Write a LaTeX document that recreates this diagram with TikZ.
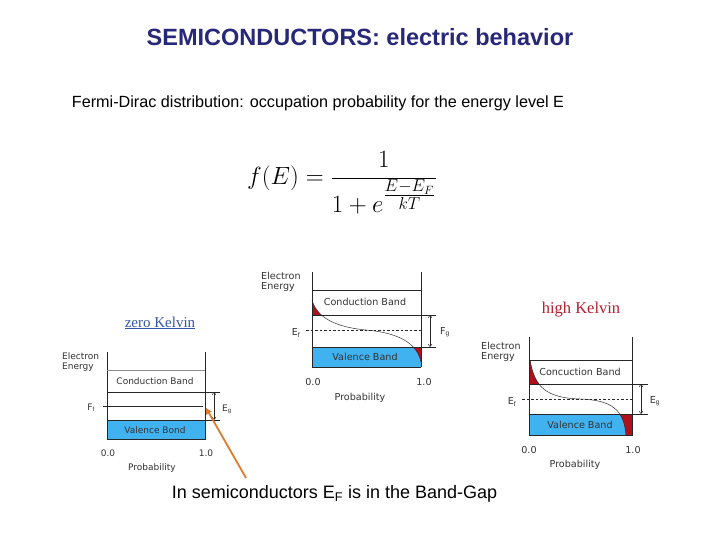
\documentclass[tikz,border=0pt]{standalone}
\usepackage{fontspec}
\setmainfont{Liberation Sans}
\newfontfamily\kelvinfont{Liberation Serif}
\newfontfamily\labelfont{DejaVu Sans}
\usetikzlibrary{arrows.meta}
\definecolor{navy}{HTML}{28287A}
\definecolor{vblue}{HTML}{40B2F0}
\definecolor{dred}{HTML}{B0101C}
\definecolor{kblue}{HTML}{3355AA}
\definecolor{kred}{HTML}{B0202E}
\definecolor{orng}{HTML}{E07A2C}
\tikzset{
  lbl/.style={font=\labelfont\fontsize{9.6}{10.5}\selectfont, text=black!80, inner sep=0pt},
  lbls/.style={lbl, font=\labelfont\fontsize{9}{10.5}\selectfont},
  lbll/.style={lbl, align=left},
  band/.style={draw=black!85, line width=0.7pt},
  axisl/.style={draw=black!85, line width=0.8pt},
  gaparrow/.style={draw=black!85, line width=0.5pt, {Straight Barb[length=2.5pt,width=4pt]}-{Straight Barb[length=2.5pt,width=4pt]}},
  fermidash/.style={draw=black!85, line width=0.5pt, dash pattern=on 2.5pt off 2pt},
  curvel/.style={draw=black!80, line width=0.5pt}
}
\begin{document}
\begin{tikzpicture}[x=1pt,y=-1pt]
\useasboundingbox[fill=white] (0,0) rectangle (720,540);

% title and texts
\node[font=\fontsize{23.5}{27}\selectfont\bfseries, text=navy] (title) at (360,37) {SEMICONDUCTORS: electric behavior};
\node[font=\fontsize{16.2}{19}\selectfont] (sub) at (318,103) {Fermi-Dirac distribution: occupation probability for the energy level E};
\node[font=\fontsize{25}{30}\selectfont] (formula) at (342,183) {$\displaystyle f(E)=\frac{1}{1+e^{\textstyle\frac{E-E_F}{kT}}}$};
\node[font=\fontsize{18}{21}\selectfont] (bottom) at (334.5,494) {In semiconductors E\textsubscript{F} is in the Band-Gap};

% ===== middle diagram =====
\fill[vblue] (312,347) rectangle (421,367);
\begin{scope}
  \clip (312,290) rectangle (421,315);
  \fill[dred] (312,300) .. controls (318,322) and (345,328) .. (366,330) -- (312,330) -- cycle;
\end{scope}
\begin{scope}
  \clip (312,347) rectangle (421,367);
  \fill[dred] (366,330) .. controls (388,332) and (416,338) .. (421,362) -- (421,330) -- cycle;
\end{scope}
\draw[curvel] (312,300) .. controls (318,322) and (345,328) .. (366,330) .. controls (388,332) and (416,338) .. (421,362);
\draw[axisl] (312,272) -- (312,367);
\draw[axisl] (421,272) -- (421,367);
\draw[band] (312,290) -- (421,290);
\draw[band] (312,315) -- (436,315);
\draw[band] (312,347) -- (436,347);
\draw[band] (312,367) -- (421,367);
\draw[fermidash] (306,330) -- (421,330);
\coordinate (mgt) at (430,315);
\coordinate (mgb) at (430,347);
\draw[gaparrow] (mgt) -- (mgb);
\node[lbll, anchor=west] (melec) at (261,282) {Electron\\Energy};
\node[lbl] (mcb) at (365,302) {Conduction Band};
\node[lbl] (mvb) at (365,357) {Valence Band};
\node[lbl] (mef) at (296,333) {E$_{\mathrm{f}}$};
\node[lbl] (meg) at (445,332) {F$_{\mathrm{g}}$};
\node[lbl] (m00) at (313,382) {0.0};
\node[lbl] (m10) at (424,382) {1.0};
\node[lbl] (mprob) at (360,398) {Probability};

% ===== left diagram (zero Kelvin) =====
\node[font=\kelvinfont\fontsize{15}{17}\selectfont, text=kblue, inner sep=0pt] (zk) at (160,323) {\underline{zero Kelvin}};
\fill[vblue] (107,420) rectangle (205,439);
\draw[axisl] (107,352) -- (107,440);
\draw[axisl] (205,352) -- (205,440);
\draw[band, draw=black!45] (107,370) -- (205,370);
\draw[band] (107,392) -- (220,392);
\draw[band] (107,420) -- (220,420);
\draw[band] (107,439) -- (205,439);
\coordinate (lfa) at (103,406);
\coordinate (lfb) at (203,406);
\draw[band] (lfa) -- (lfb);
\draw[gaparrow] (214,392) -- (214,420);
\node[lbll, lbls, anchor=west] (lelec) at (62,362) {Electron\\Energy};
\node[lbls] (lcb) at (155,381) {Conduction Band};
\node[lbls] (lvb) at (155,430) {Valence Bond};
\node[lbls] (lef) at (91,408) {F$_{\mathrm{f}}$};
\node[lbls] (leg) at (227,409) {E$_{\mathrm{g}}$};
\node[lbls] (l00) at (108,453) {0.0};
\node[lbls] (l10) at (206,453) {1.0};
\node[lbls] (lprob) at (152,468) {Probability};

% orange pointer
\coordinate (otail) at (246,478);
\coordinate (ohead) at (206,408);
\draw[orng, line width=1.8pt, -{Triangle[length=6pt,width=6pt]}] (otail) -- (ohead);

% ===== right diagram (high Kelvin) =====
\node[font=\kelvinfont\fontsize{16.5}{18}\selectfont, text=kred, inner sep=0pt] (hk) at (581,310) {high Kelvin};
\begin{scope}
  \clip (529,414) rectangle (632,435);
  \fill[vblue] (529,414) rectangle (632,435);
  \fill[dred] (580,399) .. controls (612,400) and (624,410) .. (626,436) -- (632,436) -- (632,399) -- cycle;
\end{scope}
\begin{scope}
  \clip (529,360) rectangle (632,384);
  \fill[dred] (530,358) .. controls (534,388) and (548,398) .. (580,399) -- (529,399) -- (529,358) -- cycle;
\end{scope}
\draw[curvel] (530,360) .. controls (534,388) and (548,398) .. (580,399) .. controls (612,400) and (624,410) .. (626,435);
\draw[axisl] (529,337) -- (529,436);
\draw[axisl] (632,337) -- (632,436);
\draw[band] (529,360) -- (632,360);
\draw[band] (529,384) -- (648,384);
\draw[band] (529,414) -- (648,414);
\draw[band] (529,435) -- (632,435);
\draw[fermidash] (522,399) -- (632,399);
\draw[gaparrow] (641,384) -- (641,414);
\node[lbll, anchor=west] (relec) at (481,352) {Electron\\Energy};
\node[lbl] (rcb) at (580,372) {Concuction Band};
\node[lbl] (rvb) at (580,425) {Valence Band};
\node[lbl] (ref) at (512,402) {E$_{\mathrm{f}}$};
\node[lbl] (reg) at (655,401) {E$_{\mathrm{g}}$};
\node[lbl] (r00) at (529,450) {0.0};
\node[lbl] (r10) at (633,450) {1.0};
\node[lbl] (rprob) at (575,465) {Probability};
\end{tikzpicture}
\end{document}
